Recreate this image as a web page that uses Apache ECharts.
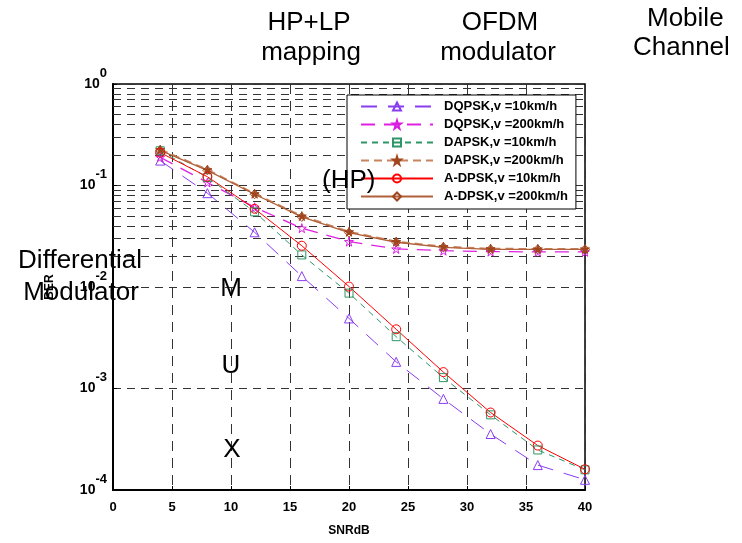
<!DOCTYPE html>
<html>
<head>
<meta charset="utf-8">
<script src="https://cdn.jsdelivr.net/npm/echarts@6/dist/echarts.min.js"></script>
<style>
  html, body { margin: 0; padding: 0; background: #fff; }
  #chart { width: 742px; height: 543px; }
</style>
</head>
<body>
<div id="chart"></div>
<script>
// SNR points (dB)
const snr = [4, 8, 12, 16, 20, 24, 28, 32, 36, 40]

// BER values
const dqpsk10 = [0.176, 0.084, 0.0346, 0.0128, 0.0049, 0.00183, 0.00079, 0.000356, 0.000176, 0.000126]
const dqpsk200 = [0.19, 0.107, 0.061, 0.038, 0.028, 0.0237, 0.0228, 0.0223, 0.0222, 0.0222]
const dapsk10 = [0.22, 0.12, 0.055, 0.0207, 0.0087, 0.00324, 0.00128, 0.00055, 0.000248, 0.000158]
const dapsk200 = [0.226, 0.143, 0.083, 0.05, 0.035, 0.028, 0.025, 0.0238, 0.0237, 0.0237]
const adpsk10 = [0.211, 0.122, 0.059, 0.0255, 0.0101, 0.00383, 0.00145, 0.00058, 0.000274, 0.00016]
const adpsk200 = [0.222, 0.141, 0.082, 0.049, 0.0343, 0.0276, 0.0246, 0.0235, 0.0235, 0.0235]

const seriesNames = [
    'DQPSK,v =10km/h', 'DQPSK,v =200km/h', 'DAPSK,v =10km/h',
    'DAPSK,v =200km/h', 'A-DPSK,v =10km/h', 'A-DPSK,v =200km/h'
]

// minor grid lines of the log axis (2..9 x 10^k)
const minorGrid = []
for (let k = -4; k < 0; k++) {
    for (let m = 2; m <= 9; m++) minorGrid.push(+(m * Math.pow(10, k)).toPrecision(3))
}

const FONT = '"Liberation Sans", Arial, sans-serif'
const STAR = 'path://M50,0 L61,35 L98,35 L68,57 L79,91 L50,70 L21,91 L32,57 L2,35 L39,35 Z'
const CLEAR = 'rgba(255,255,255,0)'

const pairs = arr => snr.map((x, i) => [x, arr[i]])

const chart = echarts.init(document.getElementById('chart'))

function makeSeries(name, data, color, type, width, symbol, fill, border, size) {
    return {
        name: name,
        type: 'line',
        data: pairs(data),
        symbol: symbol,
        symbolSize: size,
        lineStyle: {color: color, type: type, width: width},
        itemStyle: {color: fill, borderColor: border, borderWidth: 1},
        z: 3
    }
}

const series = [
    makeSeries(seriesNames[0], dqpsk10, '#8a3cf0', [16, 11], 1, 'triangle', CLEAR, '#8a3cf0', 9),
    makeSeries(seriesNames[1], dqpsk200, '#e020e0', [14, 9], 1.3, STAR, CLEAR, '#d81ee0', 9),
    makeSeries(seriesNames[2], dapsk10, '#2e9566', [6, 5], 1, 'rect', CLEAR, '#2e9566', 8),
    makeSeries(seriesNames[3], dapsk200, '#c8845e', [8, 5], 2, STAR, '#a0451d', '#a0451d', 9),
    makeSeries(seriesNames[4], adpsk10, '#ff0000', 'solid', 1, 'circle', CLEAR, '#ff0000', 9),
    makeSeries(seriesNames[5], adpsk200, '#b0603a', 'solid', 1.3, 'diamond', CLEAR, '#a0451d', 9)
]

// dashed minor grid lines, drawn through the y scale
series[0].markLine = {
    silent: true,
    symbol: 'none',
    label: {show: false},
    lineStyle: {color: '#333', type: [8, 6], width: 1},
    data: minorGrid.map(v => ({yAxis: v})),
    z: 1
}

const bigText = (text, x, y, align) => ({
    type: 'text',
    x: x,
    y: y,
    z: 100,
    style: {
        text: text,
        font: '26px ' + FONT,
        fill: '#000',
        align: align || 'center',
        verticalAlign: 'middle'
    }
})

chart.setOption({
    animation: false,
    backgroundColor: '#fff',
    grid: {
        left: 113, right: 157, top: 84, bottom: 53,
        show: true, borderColor: '#000', borderWidth: 1.5
    },
    legend: {
        data: seriesNames,
        orient: 'vertical',
        left: 347,
        top: 95,
        backgroundColor: '#fff',
        borderColor: '#000',
        borderWidth: 1,
        borderRadius: 0,
        padding: [5, 8, 6, 13],
        itemGap: 5,
        itemWidth: 72,
        itemHeight: 10,
        textStyle: {fontFamily: FONT, fontWeight: 'bold', fontSize: 13, color: '#000', padding: [0, 0, 0, 6]},
        z: 10
    },
    xAxis: {
        type: 'value',
        min: 0, max: 40, interval: 5,
        name: 'SNRdB',
        nameLocation: 'middle',
        nameGap: 35,
        nameTextStyle: {fontFamily: FONT, fontWeight: 'bold', fontSize: 12, color: '#000'},
        axisLine: {lineStyle: {color: '#000', width: 2}},
        axisTick: {inside: true, length: 4, lineStyle: {color: '#000'}},
        axisLabel: {fontFamily: FONT, fontWeight: 'bold', fontSize: 13, color: '#000', margin: 11},
        splitLine: {show: true, lineStyle: {color: '#333', type: [10, 7], width: 1}}
    },
    yAxis: {
        type: 'log',
        logBase: 10,
        min: 1e-4, max: 1,
        name: 'BER',
        nameLocation: 'middle',
        nameRotate: 90,
        nameGap: 57,
        nameTextStyle: {fontFamily: FONT, fontWeight: 'bold', fontSize: 12, color: '#000'},
        axisLine: {show: true, lineStyle: {color: '#000', width: 2}},
        axisTick: {inside: true, length: 4, lineStyle: {color: '#000'}},
        axisLabel: {
            margin: 6,
            formatter: v => '{b|10}{s|' + Math.round(Math.log10(v)) + '}',
            rich: {
                b: {fontFamily: FONT, fontWeight: 'bold', fontSize: 14, color: '#000'},
                s: {fontFamily: FONT, fontWeight: 'bold', fontSize: 13, color: '#000', padding: [0, 0, 22, 0]}
            }
        },
        splitLine: {show: true, lineStyle: {color: '#333', type: [8, 6], width: 1}}
    },
    graphic: [
        bigText('HP+LP', 309, 23),
        bigText('mapping', 311, 53),
        bigText('OFDM', 500, 23),
        bigText('modulator', 498, 53),
        bigText('Mobile', 647, 19, 'left'),
        bigText('Channel', 633, 48, 'left'),
        bigText('(HP)', 322, 181, 'left'),
        bigText('Differential', 80, 261),
        bigText('Modulator', 81, 293),
        bigText('M', 231, 289),
        bigText('U', 231, 366),
        bigText('X', 232, 450)
    ],
    series: series
})
</script>
</body>
</html>
